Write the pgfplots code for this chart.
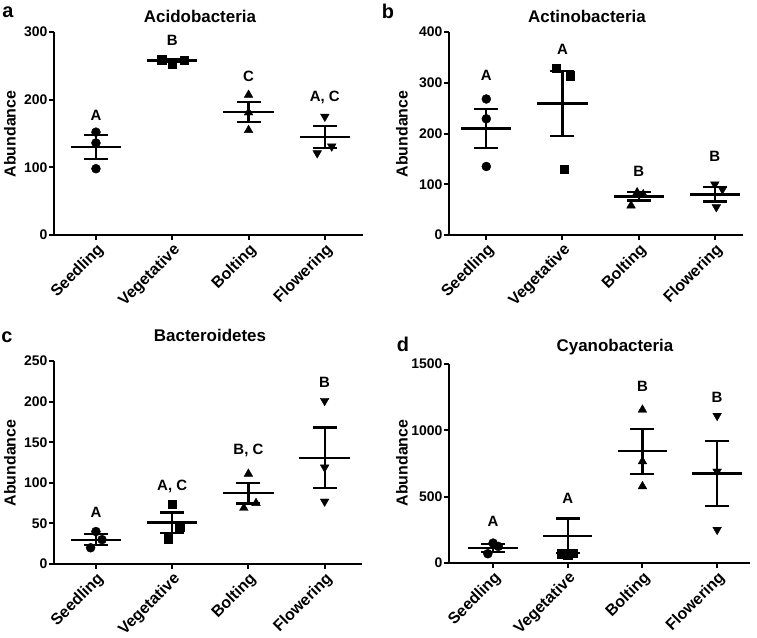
\documentclass[border=0pt]{standalone}
\usepackage{pgfplots}
\pgfplotsset{compat=1.18}
\usepackage{fontspec}
\setmainfont{Liberation Sans}
\newcommand{\fs}[1]{\fontsize{#1}{#1}\selectfont\bfseries}
\pgfplotsset{
  panel/.style={
    scale only axis,
    axis x line*=bottom, axis y line*=left,
    axis line style={line width=2.2bp, black},
    tick align=outside, major tick length=5bp,
    tick style={line width=2bp, black},
    xtick={0,1,2,3},
    xticklabels={Seedling,Vegetative,Bolting,Flowering},
    xticklabel style={rotate=45, anchor=north east, font=\fs{16}, inner sep=1.5bp},
    yticklabel style={font=\fs{14}, inner sep=1.5bp},
    /pgf/number format/assume math mode=true,
    /pgf/number format/set thousands separator={},
    clip=false, ymin=0,
  },
  pts/.style={only marks, black, mark options={fill=black, draw=black}},
  meanline/.style={draw=none, mark=none, forget plot,
    error bars/.cd, x dir=both, x fixed=0.33, error mark=none,
    error bar style={line width=2.2bp, black}},
  sem/.style={draw=none, mark=none, forget plot,
    error bars/.cd, y dir=both, y explicit, error mark=|,
    error mark options={mark size=12bp, line width=2.2bp, black},
    error bar style={line width=2.2bp, black}},
}
\begin{document}
\begin{tikzpicture}
\useasboundingbox (0,0) rectangle (757bp,-638bp);
% ---------------- a ----------------
\begin{axis}[panel, at={(54bp,-235bp)}, anchor=south west,
  width=309bp, height=203bp, xmin=-0.55, xmax=3.5, ymax=300, ytick={0,100,200,300}]
\addplot[pts, mark=*, mark size=4.5bp] coordinates {(0,152) (0,136) (0,98)};
\addplot[pts, mark=square*, mark size=4.2bp] coordinates {(0.86,259) (1,253) (1.16,258)};
\addplot[pts, mark=triangle*, mark size=5bp] coordinates {(2,207) (2,181) (2,155)};
\addplot[pts, mark=triangle*, mark size=5bp, mark options={rotate=180}] coordinates {(3,175) (3.09,131) (2.9,121)};
\addplot[meanline] coordinates {(0,130) (1,258) (2,182) (3,145)};
\addplot[sem] table[x=x, y=m, y error=e] {
x m e
0 130 18
1 258 2
2 182 15
3 145 16
};
\node[font=\fs{15}] at (axis cs:0,177) {A};
\node[font=\fs{15}] at (axis cs:1,288) {B};
\node[font=\fs{15}] at (axis cs:2,234) {C};
\node[font=\fs{15}] at (axis cs:3,204) {A, C};
\end{axis}
\node[rotate=90, font=\fs{16}] at (10bp,-134bp) {Abundance};
\node[font=\fs{17}] at (200bp,-16bp) {Acidobacteria};
\node[font=\fs{20}] at (8bp,-12bp) {a};
% ---------------- b ----------------
\begin{axis}[panel, at={(449bp,-235bp)}, anchor=south west,
  width=294bp, height=203bp, xmin=-0.49, xmax=3.37, ymax=400, ytick={0,100,200,300,400}]
\addplot[pts, mark=*, mark size=4.5bp] coordinates {(0,268) (0,229) (0,135)};
\addplot[pts, mark=square*, mark size=4.2bp] coordinates {(0.92,329) (1.1,314) (1.02,130)};
\addplot[pts, mark=triangle*, mark size=5bp] coordinates {(1.9,58) (1.98,84) (2.06,80)};
\addplot[pts, mark=triangle*, mark size=5bp, mark options={rotate=180}] coordinates {(3,100) (3.1,90) (3.02,55)};
\addplot[meanline] coordinates {(0,210) (1,259) (2,76) (3,80)};
\addplot[sem] table[x=x, y=m, y error=e] {
x m e
0 210 39
1 259 64
2 76 8
3 80 14
};
\node[font=\fs{15}] at (axis cs:0,314) {A};
\node[font=\fs{15}] at (axis cs:1,365) {A};
\node[font=\fs{15}] at (axis cs:2,125) {B};
\node[font=\fs{15}] at (axis cs:3,155) {B};
\end{axis}
\node[rotate=90, font=\fs{16}] at (402bp,-134bp) {Abundance};
\node[font=\fs{17}] at (587bp,-16bp) {Actinobacteria};
\node[font=\fs{20}] at (388bp,-11bp) {b};
% ---------------- c ----------------
\begin{axis}[panel, at={(54bp,-564bp)}, anchor=south west,
  width=308bp, height=203bp, xmin=-0.55, xmax=3.49, ymax=250, ytick={0,50,100,150,200,250}]
\addplot[pts, mark=*, mark size=4.5bp] coordinates {(0,40) (0.08,30) (-0.07,20)};
\addplot[pts, mark=square*, mark size=4.2bp] coordinates {(1,74) (1.1,46) (0.95,31)};
\addplot[pts, mark=triangle*, mark size=5bp] coordinates {(2,111) (2.1,75) (1.94,69)};
\addplot[pts, mark=triangle*, mark size=5bp, mark options={rotate=180}] coordinates {(3,201) (3,119) (3,77)};
\addplot[meanline] coordinates {(0,30) (1,51) (2,87) (3,131)};
\addplot[sem] table[x=x, y=m, y error=e] {
x m e
0 30 7
1 51 12.5
2 87 12.5
3 131 37
};
\node[font=\fs{15}] at (axis cs:0,64) {A};
\node[font=\fs{15}] at (axis cs:1,96) {A, C};
\node[font=\fs{15}] at (axis cs:2,140) {B, C};
\node[font=\fs{15}] at (axis cs:3,224) {B};
\end{axis}
\node[rotate=90, font=\fs{16}] at (10bp,-463bp) {Abundance};
\node[font=\fs{17}] at (210bp,-335bp) {Bacteroidetes};
\node[font=\fs{20}] at (7bp,-337bp) {c};
% ---------------- d ----------------
\begin{axis}[panel, at={(449bp,-563bp)}, anchor=south west,
  width=301bp, height=199bp, xmin=-0.59, xmax=3.44, ymax=1500, ytick={0,500,1000,1500}]
\addplot[pts, mark=*, mark size=4.5bp] coordinates {(0,150) (0.07,125) (-0.07,70)};
\addplot[pts, mark=square*, mark size=4.2bp] coordinates {(0.92,70) (1.07,75) (1,62)};
\addplot[pts, mark=triangle*, mark size=5bp] coordinates {(2,1155) (2,766) (2,578)};
\addplot[pts, mark=triangle*, mark size=5bp, mark options={rotate=180}] coordinates {(3,1110) (3,690) (3,251)};
\addplot[meanline] coordinates {(0,115) (1,206) (2,842) (3,675)};
\addplot[sem] table[x=x, y=m, y error=e] {
x m e
0 115 30
1 206 130
2 842 170
3 675 247
};
\node[font=\fs{15}] at (axis cs:0,314) {A};
\node[font=\fs{15}] at (axis cs:1,490) {A};
\node[font=\fs{15}] at (axis cs:2,1332) {B};
\node[font=\fs{15}] at (axis cs:3,1251) {B};
\end{axis}
\node[rotate=90, font=\fs{16}] at (402bp,-463bp) {Abundance};
\node[font=\fs{17}] at (615bp,-347bp) {Cyanobacteria};
\node[font=\fs{20}] at (403bp,-344bp) {d};
\end{tikzpicture}
\end{document}
